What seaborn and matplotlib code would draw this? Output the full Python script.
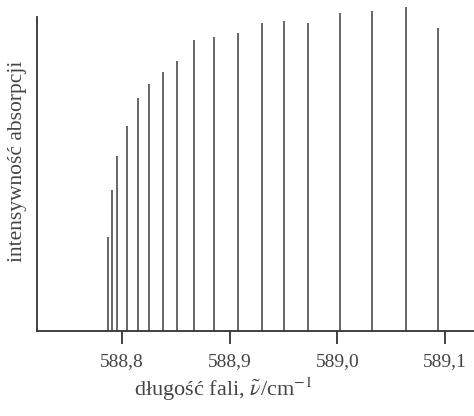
import numpy as np
import pandas as pd
import seaborn as sns
import matplotlib.pyplot as plt


# Line positions (wavenumber, cm^-1) and relative absorption intensity
wavenumber = [588.787, 588.791, 588.7956, 588.8046, 588.8148, 588.8253,
              588.8386, 588.851, 588.8673, 588.886, 588.908, 588.930,
              588.951, 588.973, 589.0025, 589.0325, 589.0635, 589.0937]
intensity = [94, 141, 175, 205, 233, 247, 259, 270, 291, 294, 298, 308,
             310, 308, 318, 320, 324, 303]

tick_values = [588.8, 588.9, 589.0, 589.1]
tick_labels = ["588,8", "588,9", "589,0", "589,1"]


def plot_spectrum(df):
    sns.set_style("ticks")
    plt.rcParams['font.family'] = ['Liberation Serif', 'DejaVu Serif']
    plt.rcParams['mathtext.fontset'] = 'stix'

    fig = plt.figure(figsize=(4.74, 4.16), dpi=100)
    ax = fig.add_axes([37 / 474, 85 / 416, 1 - 37 / 474, 326 / 416])

    ax.vlines(df["wavenumber"], 0, df["intensity"], color="#5a5a5a", linewidth=1.3)

    ax.set_xlim(588.7214, 589.1268)
    ax.set_ylim(0, 326)
    sns.despine(ax=ax, top=True, right=True)
    ax.spines['left'].set_bounds(0, 314)
    for s in ['left', 'bottom']:
        ax.spines[s].set_color("#333333")
        ax.spines[s].set_linewidth(1.3)

    ax.set_yticks([])
    ax.set_xticks(tick_values)
    ax.set_xticklabels(tick_labels, fontsize=14, color="#444444")
    ax.tick_params(axis='x', direction='out', length=9, width=1.3,
                   color="#333333", pad=7)

    ax.set_xlabel(r"długość fali, $\tilde{\nu}$/cm$^{-1}$", fontsize=16,
                  color="#444444")
    ax.xaxis.set_label_coords(0.426, -0.135)
    ax.set_ylabel("intensywność absorpcji", fontsize=15.5, color="#444444")
    ax.yaxis.set_label_coords(-0.023, 0.521)
    return fig


df = pd.DataFrame({"wavenumber": wavenumber, "intensity": intensity})
fig = plot_spectrum(df)
fig.savefig("out.png", dpi=100)
